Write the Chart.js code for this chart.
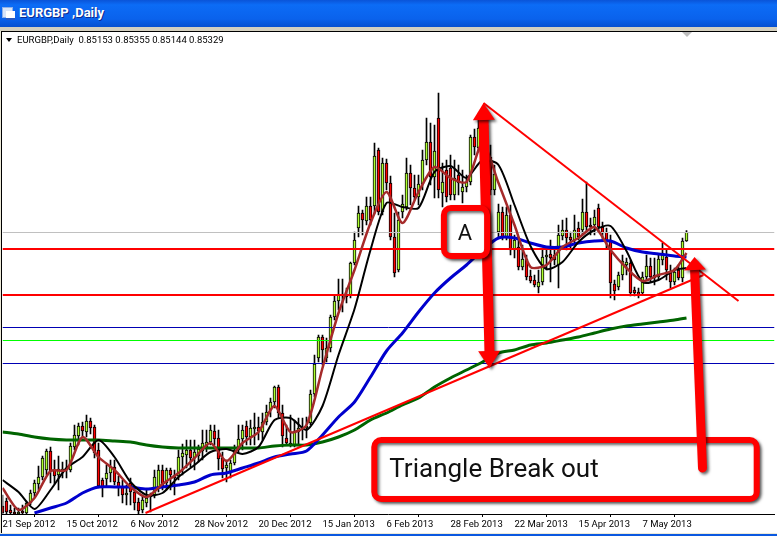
<!DOCTYPE html>
<html>
<head>
<meta charset="utf-8">
<title>EURGBP Daily</title>
<script src="https://cdn.jsdelivr.net/npm/chart.js@4/dist/chart.umd.min.js"></script>
<style>
  html, body { margin: 0; padding: 0; width: 777px; height: 536px; overflow: hidden; background: #fff; }
  #chart { position: absolute; left: 0; top: 0; }
  #titlebar { position: absolute; left: 0; top: 0; width: 777px; height: 27px;
    background: linear-gradient(#0a54d8 0, #0c6cf6 18%, #0a62ec 70%, #0750d0 100%); }
  #titlebar span { position: absolute; left: 19px; top: 5px; color: #fff; font: bold 13px Roboto, sans-serif;
    text-shadow: 1px 1px 0 #0a2c90; }
  #icon { position: absolute; left: 2px; top: 7px; width: 9px; height: 9px; background: #d8e4f8; border: 1px solid #8fb0e8; }
  #icon2 { position: absolute; left: 6px; top: 11px; width: 9px; height: 7px; background: #fff; border-bottom: 2px solid #2a5ac0; }
  #edge { position: absolute; left: 0; top: 27px; width: 777px; height: 4px; background: #d4d0c0; border-bottom: 1px solid #000; box-sizing: content-box; }
  #leftedge { position: absolute; left: 0; top: 31px; width: 1px; height: 503px; background: #ece9d8; border-right: 1px solid #000; }
  #bottomedge { position: absolute; left: 0; top: 533px; width: 777px; height: 3px; background: linear-gradient(#ece9d8 0 1px, #0a58e0 1px); }
  #shift { position: absolute; left: 682px; top: 32px; width: 0; height: 0; border-left: 5px solid transparent; border-right: 5px solid transparent; border-top: 5px solid #bdbdbd; }
  #marker { position: absolute; left: 6px; top: 38px; width: 0; height: 0; border-left: 3.5px solid transparent; border-right: 3.5px solid transparent; border-top: 4px solid #000; }
  #header { position: absolute; left: 17px; top: 34px; font: 9.5px Roboto, sans-serif; color: #000; white-space: pre; }
</style>
</head>
<body>
<canvas id="chart" width="777" height="536"></canvas>
<div id="titlebar"><div id="icon"></div><div id="icon2"></div><span>EURGBP ,Daily</span></div>
<div id="edge"></div>
<div id="leftedge"></div>
<div id="bottomedge"></div>
<div id="shift"></div>
<div id="marker"></div>
<div id="header">EURGBP,Daily  0.85153 0.85355 0.85144 0.85329</div>
<script>
// all prices in pips (EURGBP x 10000)
const tickLabels = ['21 Sep 2012', '15 Oct 2012', '6 Nov 2012', '28 Nov 2012', '20 Dec 2012', '15 Jan 2013',
    '6 Feb 2013', '28 Feb 2013', '22 Mar 2013', '15 Apr 2013', '7 May 2013'];

const opens = [7985,7995,7977,7973,7969,7975,7971,7991,8011,8029,
    8043,8057,8095,8057,8047,8055,8057,8057,8103,8125,
    8145,8133,8155,8143,8097,8037,8039,8051,8063,8033,
    8023,8007,8031,8013,7993,7977,7991,8007,8007,8023,
    8057,8031,8057,8047,8045,8083,8087,8097,8081,8085,
    8095,8103,8113,8135,8121,8081,8061,8051,8071,8097,
    8119,8145,8123,8139,8143,8133,8153,8177,8193,8223,
    8171,8121,8111,8107,8133,8143,8141,8151,8209,8281,
    8323,8281,8301,8363,8395,8405,8407,8407,8471,8541,
    8571,8555,8585,8585,8697,8573,8671,8631,8523,8457,
    8573,8583,8651,8621,8603,8629,8677,8713,8643,8761,
    8611,8657,8661,8607,8647,8613,8623,8633,8723,8701,
    8727,8747,8683,8617,8533,8573,8521,8567,8497,8503,
    8463,8479,8445,8437,8423,8433,8483,8489,8487,8467,
    8525,8537,8523,8517,8541,8537,8573,8547,8547,8581,
    8543,8533,8517,8429,8423,8447,8467,8471,8417,8413,
    8411,8443,8465,8447,8443,8477,8483,8453,8433,8457,
    8441,8515];
const highs = [8007,8001,7987,7981,7981,7987,7995,8017,8037,8065,
    8085,8099,8103,8077,8085,8073,8077,8111,8147,8151,
    8153,8167,8161,8147,8111,8041,8067,8077,8077,8045,
    8037,8027,8041,8021,8001,8007,8017,8011,8057,8067,
    8067,8061,8061,8057,8097,8109,8117,8117,8117,8107,
    8137,8137,8147,8147,8137,8093,8077,8077,8107,8147,
    8147,8155,8157,8171,8163,8171,8187,8201,8225,8227,
    8187,8147,8167,8157,8161,8161,8163,8217,8287,8327,
    8327,8321,8367,8407,8439,8439,8421,8473,8533,8585,
    8577,8603,8603,8711,8701,8681,8679,8645,8571,8573,
    8607,8681,8667,8647,8647,8697,8761,8751,8747,8811,
    8671,8677,8687,8677,8667,8657,8647,8727,8739,8757,
    8773,8767,8707,8667,8589,8583,8583,8587,8527,8523,
    8507,8487,8457,8447,8457,8497,8497,8517,8501,8547,
    8557,8561,8533,8567,8553,8599,8633,8561,8577,8589,
    8553,8541,8527,8437,8453,8487,8481,8477,8423,8421,
    8453,8487,8481,8481,8487,8511,8497,8467,8461,8467,
    8521,8536];
const lows = [7969,7969,7969,7969,7969,7969,7969,7987,8003,8017,
    8037,8047,8031,8029,8017,8041,8041,8053,8097,8107,
    8125,8123,8129,8081,8021,8003,8023,8033,8027,8005,
    7991,7987,7987,7977,7969,7971,7983,7973,8001,8013,
    8017,8017,8017,8007,8037,8047,8061,8063,8057,8073,
    8077,8093,8107,8107,8057,8041,8033,8041,8067,8093,
    8097,8107,8107,8107,8117,8117,8147,8163,8181,8161,
    8103,8107,8103,8103,8107,8117,8121,8147,8203,8273,
    8267,8273,8293,8357,8377,8373,8391,8401,8467,8523,
    8527,8547,8547,8569,8567,8567,8617,8517,8443,8453,
    8561,8577,8587,8597,8587,8617,8667,8627,8601,8601,
    8583,8593,8597,8597,8607,8591,8613,8627,8687,8693,
    8697,8657,8607,8607,8521,8517,8517,8487,8481,8457,
    8457,8437,8431,8423,8411,8427,8457,8433,8467,8421,
    8517,8497,8501,8507,8517,8527,8533,8527,8527,8533,
    8517,8501,8401,8397,8417,8437,8447,8405,8405,8401,
    8407,8437,8433,8427,8437,8467,8437,8421,8427,8437,
    8433,8514];
const closes = [7971,7973,7971,7969,7973,7971,7991,8011,8031,8043,
    8081,8095,8055,8045,8059,8059,8061,8105,8127,8145,
    8135,8155,8141,8091,8025,8023,8051,8063,8033,8023,
    8007,8011,8013,7991,7975,7997,8001,8003,8043,8057,
    8023,8057,8047,8041,8083,8091,8097,8081,8093,8099,
    8111,8113,8137,8119,8079,8059,8067,8071,8097,8119,
    8137,8123,8141,8143,8135,8153,8173,8193,8223,8171,
    8125,8111,8107,8133,8141,8139,8145,8209,8269,8323,
    8297,8301,8363,8395,8407,8409,8403,8471,8517,8571,
    8557,8585,8557,8685,8573,8671,8631,8523,8451,8557,
    8589,8651,8621,8603,8629,8677,8713,8643,8695,8617,
    8633,8603,8607,8641,8631,8623,8633,8723,8703,8741,
    8753,8677,8617,8649,8573,8523,8567,8497,8517,8463,
    8479,8443,8435,8427,8433,8483,8487,8481,8477,8527,
    8537,8521,8517,8537,8523,8573,8543,8543,8563,8543,
    8531,8515,8431,8415,8447,8475,8473,8411,8411,8407,
    8443,8465,8443,8441,8479,8491,8457,8433,8453,8441,
    8515,8533];

// moving averages, read every 4th bar
const maBars = [0,4,8,12,16,20,24,28,32,36,40,44,48,52,56,60,64,68,72,76,80,84,
    88,92,96,100,104,108,112,116,120,124,128,132,136,140,144,148,152,156,160,164,168,171];
const maFast = [8021,7977,8001,8055,8057,8123,8083,8057,8023,8003,8029,8051,8081,8111,8075,8111,8133,8185,8133,8147,8261,8371,
    8457,8551,8613,8551,8613,8663,8641,8633,8711,8631,8547,8463,8467,8503,8521,8543,8497,8461,8435,8447,8457,8491];
const maMid = [8037,8013,7979,8017,8061,8083,8117,8083,8033,8007,8011,8043,8067,8093,8099,8089,8103,8157,8161,8137,8185,8287,
    8379,8497,8591,8583,8581,8653,8665,8641,8677,8667,8587,8505,8459,8473,8513,8537,8545,8495,8433,8437,8457,8461];
const maSlow = [null,null,7971,7981,7991,8011,8023,8023,8023,8019,8023,8027,8033,8047,8051,8061,8071,8083,8089,8095,8127,8163,
    8193,8243,8295,8331,8373,8411,8441,8467,8497,8521,8521,8511,8503,8503,8511,8515,8515,8501,8493,8489,8485,8483];
const maLong = [8133,8129,8123,8119,8117,8117,8117,8115,8113,8107,8103,8101,8101,8101,8101,8101,8101,8105,8107,8107,8113,8123,
    8137,8157,8171,8187,8201,8223,8241,8257,8273,8291,8297,8307,8311,8317,8323,8331,8339,8345,8349,8353,8357,8361];

// horizontal levels
const levelValues = [8532, 8499, 8407, 8342, 8316, 8270];
const levelColors = ['#c0c0c0', '#ff0000', '#ff0000', '#0000b4', '#00ff00', '#0000b4'];
const levelWidths = [1, 2, 2, 1, 1, 1];

// trend lines as [bar, price] ends
const trendUp = [[35.75, 7971], [175.25, 8447]];
const trendDown = [[120.25, 8791], [184, 8395]];

// callouts, also in bar / price terms
const arrowAB = [[120.25, 8791], [121.75, 8261]];
const arrowBreak = [[175, 8061], [173, 8483]];
const boxA = { from: [109.6, 8587], to: [121.9, 8479], text: 'A', at: [115.6, 8517] };
const boxBreak = { from: [92.2, 8123], to: [189.3, 7993], text: 'Triangle Break out', at: [96.7, 8043] };

const bars = closes.map((_, i) => i);
const pairs = (xs, ys) => xs.map((x, i) => ({ x: x, y: ys[i] }));
const ends = line => line.map(p => ({ x: p[0], y: p[1] }));

function candleColor(i) {
    return closes[i] >= opens[i] ? '#adff2f' : '#ff0000';
}

const datasets = [];

// wicks
datasets.push({
    type: 'bar',
    data: bars.map(i => ({ x: i, y: [lows[i], highs[i]] })),
    backgroundColor: '#000',
    borderWidth: 0,
    barThickness: 1,
    grouped: false,
    order: 20
});
// bodies
datasets.push({
    type: 'bar',
    data: bars.map(i => ({ x: i, y: [opens[i], closes[i]] })),
    backgroundColor: bars.map(candleColor),
    borderColor: '#000',
    borderWidth: 1,
    borderSkipped: false,
    barThickness: 3,
    grouped: false,
    order: 19
});

levelValues.forEach((v, n) => {
    datasets.push({
        type: 'line',
        data: [{ x: 0, y: v }, { x: 193, y: v }],
        borderColor: levelColors[n],
        borderWidth: levelWidths[n],
        pointRadius: 0,
        order: 18 - n
    });
});

function maLine(values, color, width, order) {
    return {
        type: 'line',
        data: pairs(maBars, values),
        borderColor: color,
        borderWidth: width,
        pointRadius: 0,
        tension: 0.25,
        spanGaps: false,
        order: order
    };
}
datasets.push(maLine(maLong, '#006400', 3, 9));
datasets.push(maLine(maSlow, '#0000cd', 3, 8));
datasets.push(maLine(maMid, '#000000', 2, 7));
datasets.push(maLine(maFast, '#a52a2a', 2.5, 6));

[trendUp, trendDown].forEach(line => {
    datasets.push({
        type: 'line',
        data: ends(line),
        borderColor: '#ff0000',
        borderWidth: 2,
        pointRadius: 0,
        order: 5
    });
});

function shadow(ctx) {
    ctx.shadowColor = 'rgba(0,0,0,0.6)';
    ctx.shadowBlur = 3;
    ctx.shadowOffsetX = 2;
    ctx.shadowOffsetY = 2;
}

// arrow head pointing at (tx, ty), coming from (fx, fy)
function arrowHead(ctx, fx, fy, tx, ty, len, wid) {
    const a = Math.atan2(ty - fy, tx - fx);
    const bx = tx - Math.cos(a) * len, by = ty - Math.sin(a) * len;
    const nx = -Math.sin(a) * wid / 2, ny = Math.cos(a) * wid / 2;
    ctx.beginPath();
    ctx.moveTo(tx, ty);
    ctx.lineTo(bx + nx, by + ny);
    ctx.lineTo(bx - nx, by - ny);
    ctx.closePath();
    ctx.fill();
}

const callouts = {
    id: 'callouts',
    afterDatasetsDraw(chart) {
        const { ctx, scales: { x, y } } = chart;
        const px = p => [x.getPixelForValue(p[0]), y.getPixelForValue(p[1])];

        function arrow(line, both, thick, len) {
            const [ax, ay] = px(line[0]);
            const [bx, by] = px(line[1]);
            ctx.save();
            shadow(ctx);
            ctx.strokeStyle = '#ff0000';
            ctx.fillStyle = '#ff0000';
            ctx.lineWidth = thick;
            ctx.lineCap = 'round';
            ctx.beginPath();
            ctx.moveTo(ax, ay + (both ? len - 2 : 0));
            ctx.lineTo(bx, by + (both ? -len + 2 : len - 2));
            ctx.stroke();
            arrowHead(ctx, ax, ay, bx, by, len, 22);
            if (both) arrowHead(ctx, bx, by, ax, ay, len, 22);
            ctx.restore();
        }

        function box(b, font) {
            const [l, t] = px(b.from);
            const [r, m] = px(b.to);
            ctx.save();
            shadow(ctx);
            ctx.fillStyle = '#fff';
            ctx.strokeStyle = '#ff0000';
            ctx.lineWidth = 6;
            ctx.beginPath();
            ctx.roundRect(l + 3, t + 3, r - l - 6, m - t - 6, 7);
            ctx.fill();
            ctx.stroke();
            ctx.restore();
            const [tx, ty] = px(b.at);
            ctx.fillStyle = '#111';
            ctx.font = font;
            ctx.textBaseline = 'alphabetic';
            ctx.textAlign = b.text.length > 1 ? 'left' : 'center';
            ctx.fillText(b.text, tx, ty);
        }

        arrow(arrowAB, true, 10, 17);
        box(boxA, '22px Roboto, sans-serif');
        box(boxBreak, '26px Roboto, sans-serif');
        arrow(arrowBreak, false, 9, 13);
    }
};

new Chart(document.getElementById('chart'), {
    type: 'bar',
    data: { datasets: datasets },
    plugins: [callouts],
    options: {
        responsive: false,
        animation: false,
        layout: { padding: { left: 2.5, right: 2.5, top: 31, bottom: 0 } },
        scales: {
            x: {
                type: 'linear',
                min: 0,
                max: 193,
                offset: false,
                afterBuildTicks: s => { s.ticks = s.ticks.filter(t => t.value / 16 < tickLabels.length); },
                afterFit: s => { s.height = 22; },
                border: { color: '#000', width: 1 },
                grid: { drawOnChartArea: false, color: '#000', tickLength: 3 },
                ticks: {
                    stepSize: 16,
                    autoSkip: false,
                    maxRotation: 0,
                    align: 'start',
                    padding: 2,
                    color: '#000',
                    font: { family: 'Roboto, sans-serif', size: 9.5 },
                    callback: v => tickLabels[v / 16]
                }
            },
            y: {
                type: 'linear',
                display: false,
                min: 7969,
                max: 8935,
                beginAtZero: false
            }
        },
        plugins: {
            legend: { display: false },
            tooltip: { enabled: false }
        }
    }
});
</script>
</body>
</html>
